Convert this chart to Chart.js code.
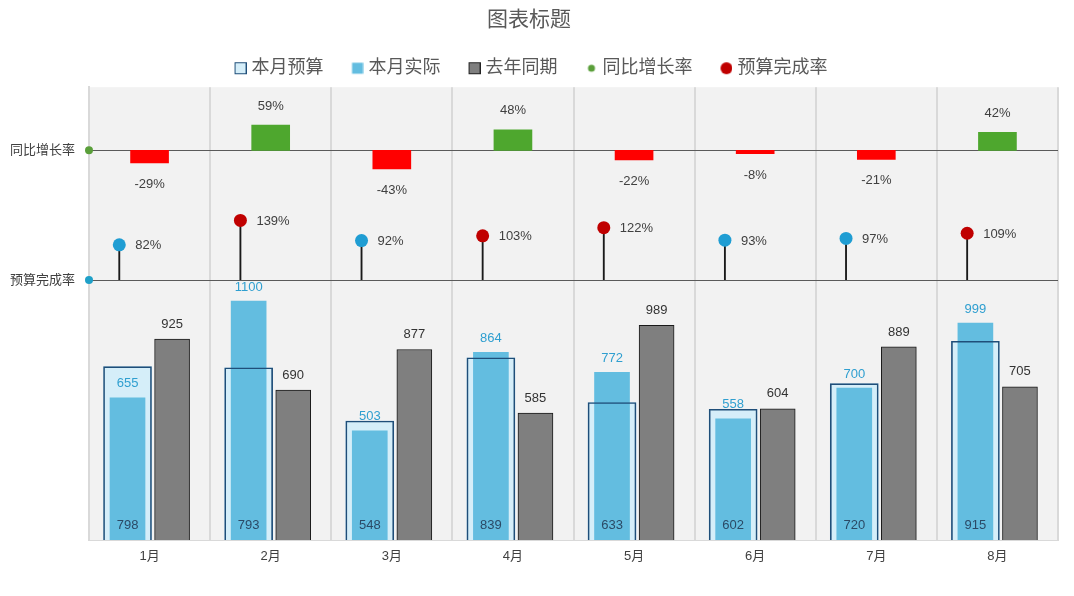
<!DOCTYPE html>
<html>
<head>
<meta charset="utf-8">
<script src="https://cdn.jsdelivr.net/npm/chart.js@4.4.1/dist/chart.umd.min.js"></script>
<style>
  html, body { margin: 0; padding: 0; background: #ffffff; }
  #wrap { width: 1074px; height: 596px; position: relative; }
</style>
</head>
<body>
<div id="wrap"><canvas id="c"></canvas></div>
<script>
// ---- data ----
const categories = ['1月', '2月', '3月', '4月', '5月', '6月', '7月', '8月'];
const budget = [798, 793, 548, 839, 633, 602, 720, 915];        // 本月预算
const actual = [655, 1100, 503, 864, 772, 558, 700, 999];       // 本月实际
const lastYear = [925, 690, 877, 585, 989, 604, 889, 705];      // 去年同期
const growthRate = [-29, 59, -43, 48, -22, -8, -21, 42];        // 同比增长率 (%)
const completionRate = [82, 139, 92, 103, 122, 93, 97, 109];    // 预算完成率 (%)
const seriesNames = ['本月预算', '本月实际', '去年同期', '同比增长率', '预算完成率'];
const rateAxisLabels = ['同比增长率', '预算完成率'];
const chartTitle = '图表标题';

// ---- axis ranges (layout of the three bands) ----
const BAR_MAX = 2085;
const PCT_MIN = -605;
const PCT_MAX = 449;
const GROWTH_BASE = 302;
// slot offsets inside a category (in category units)
const OFF_BUDGET = -0.182;
const OFF_LAST = 0.186;
const OFF_STEM = -0.25;

const FONT = "'Liberation Sans', 'Noto Sans CJK SC', sans-serif";
Chart.defaults.font.family = FONT;

const C = {
  budgetFill: '#d5eef9', budgetLine: '#1f4e79', actual: '#63bde0',
  gray: '#7f7f7f', grayLine: '#1a1a1a', up: '#4ea72e', down: '#ff0000',
  dotHigh: '#c00000', dotLow: '#1f9dd3', axisGreen: '#5a9f3a', axisBlue: '#1fa0c8'
};

function marker(draw) {
  const cv = document.createElement('canvas');
  cv.width = 20; cv.height = 14;
  const g = cv.getContext('2d');
  draw(g);
  return cv;
}
const legendMarkers = [
  marker(g => { g.fillStyle = C.budgetFill; g.fillRect(8, 1, 12, 12); g.strokeStyle = C.budgetLine; g.lineWidth = 1; g.strokeRect(8.5, 1.5, 11, 11); }),
  marker(g => { g.fillStyle = C.actual; g.fillRect(8.5, 1.5, 11, 11); }),
  marker(g => { g.fillStyle = C.gray; g.fillRect(8, 1, 12, 12); g.strokeStyle = '#222'; g.lineWidth = 1; g.strokeRect(8.5, 1.5, 11, 11); }),
  marker(g => { g.fillStyle = C.axisGreen; g.beginPath(); g.arc(14, 7, 3.5, 0, Math.PI * 2); g.fill(); }),
  marker(g => { g.fillStyle = C.dotHigh; g.beginPath(); g.arc(14, 7, 6, 0, Math.PI * 2); g.fill(); })
];

const plotBg = {
  id: 'plotBg',
  beforeDraw(chart) {
    const a = chart.chartArea, ctx = chart.ctx;
    ctx.save();
    ctx.fillStyle = '#f2f2f2';
    ctx.fillRect(a.left, a.top, a.right - a.left, a.bottom - a.top);
    ctx.restore();
  }
};

const valueLabels = {
  id: 'valueLabels',
  afterDatasetsDraw(chart) {
    const ctx = chart.ctx;
    ctx.save();
    ctx.font = '13px ' + FONT;
    ctx.textAlign = 'center';
    ctx.textBaseline = 'middle';
    chart.getDatasetMeta(0).data.forEach((el, i) => {
      ctx.fillStyle = '#404040';
      const v = growthRate[i];
      const top = Math.min(el.y, el.base), bottom = Math.max(el.y, el.base);
      ctx.fillText(v + '%', el.x, v >= 0 ? top - 19 : bottom + 21.5);
    });
    chart.getDatasetMeta(5).data.forEach((el, i) => {
      ctx.fillStyle = '#2f9fd0';
      ctx.fillText(actual[i], el.x, el.y - 14);
    });
    chart.getDatasetMeta(6).data.forEach((el, i) => {
      ctx.fillStyle = '#2b4a66';
      ctx.fillText(budget[i], el.x, el.base - 15);
    });
    chart.getDatasetMeta(7).data.forEach((el, i) => {
      ctx.fillStyle = '#333333';
      ctx.fillText(lastYear[i], el.x, el.y - 15);
    });
    ctx.textAlign = 'left';
    chart.getDatasetMeta(2).data.forEach((el, i) => {
      ctx.fillStyle = '#404040';
      ctx.fillText(completionRate[i] + '%', el.x + 16, el.y + 1);
    });
    ctx.restore();
  }
};

const at = (arr, off) => arr.map((v, i) => ({ x: i + off, y: v }));

new Chart(document.getElementById('c'), {
  type: 'bar',
  data: {
    labels: categories,
    datasets: [
      { // 0 growth
        type: 'bar', label: seriesNames[3], xAxisID: 'x', yAxisID: 'yp',
        data: growthRate.map(v => [GROWTH_BASE, GROWTH_BASE + v]),
        backgroundColor: growthRate.map(v => v >= 0 ? C.up : C.down),
        grouped: false, barThickness: 38, borderWidth: 0, order: 1
      },
      { // 1 stems
        type: 'bar', label: 'stem', xAxisID: 'x2', yAxisID: 'yp',
        data: completionRate.map((v, i) => ({ x: i + OFF_STEM, y: [0, v] })),
        backgroundColor: '#1a1a1a', grouped: false, barThickness: 1.2, borderWidth: 0, order: 2
      },
      { // 2 dots
        type: 'line', label: seriesNames[4], xAxisID: 'x2', yAxisID: 'yp',
        data: at(completionRate, OFF_STEM),
        showLine: false, pointRadius: 6.5, pointHoverRadius: 6.5, pointBorderWidth: 0,
        pointBackgroundColor: completionRate.map(v => v >= 100 ? C.dotHigh : C.dotLow),
        order: 0
      },
      { // 3 axis markers
        type: 'line', label: 'axis', xAxisID: 'x2', yAxisID: 'yp',
        data: [{ x: -0.5, y: GROWTH_BASE }, { x: -0.5, y: 0 }],
        showLine: false, pointRadius: 4, pointBorderWidth: 0,
        pointBackgroundColor: [C.axisGreen, C.axisBlue], clip: false, order: 0
      },
      { // 4 budget fill
        type: 'bar', label: seriesNames[0], xAxisID: 'x2', yAxisID: 'y', data: at(budget, OFF_BUDGET),
        backgroundColor: C.budgetFill, borderWidth: 0, grouped: false, barThickness: 48, order: 6
      },
      { // 5 actual
        type: 'bar', label: seriesNames[1], xAxisID: 'x2', yAxisID: 'y', data: at(actual, OFF_BUDGET),
        backgroundColor: C.actual, borderWidth: 0, grouped: false, barThickness: 35, order: 5
      },
      { // 6 budget outline
        type: 'bar', label: 'budgetOutline', xAxisID: 'x2', yAxisID: 'y', data: at(budget, OFF_BUDGET),
        backgroundColor: 'rgba(0,0,0,0)', borderColor: C.budgetLine, borderWidth: 1,
        grouped: false, barThickness: 48, order: 4
      },
      { // 7 last year
        type: 'bar', label: seriesNames[2], xAxisID: 'x2', yAxisID: 'y', data: at(lastYear, OFF_LAST),
        backgroundColor: C.gray, borderColor: C.grayLine, borderWidth: 1,
        grouped: false, barThickness: 35, order: 7
      }
    ]
  },
  options: {
    responsive: true,
    maintainAspectRatio: false,
    animation: false,
    events: [],
    layout: { padding: { left: 0, right: 16, top: 0, bottom: 0 } },
    plugins: {
      tooltip: { enabled: false },
      title: {
        display: true, text: chartTitle, color: '#595959',
        font: { size: 21, weight: 'normal', family: FONT },
        padding: { top: 8, bottom: 2 }
      },
      legend: {
        display: true,
        labels: {
          usePointStyle: true, boxWidth: 12, padding: 24, color: '#595959',
          font: { size: 18, family: FONT },
          generateLabels: () => seriesNames.map((t, i) => ({
            text: t, pointStyle: legendMarkers[i], fillStyle: 'transparent',
            strokeStyle: 'transparent', lineWidth: 0, hidden: false, fontColor: '#595959', datasetIndex: i
          }))
        }
      }
    },
    scales: {
      x: {
        type: 'category', offset: true, position: 'bottom',
        grid: { offset: true, color: '#d9d9d9', lineWidth: 2, drawTicks: false },
        border: { color: '#d9d9d9', width: 1 },
        ticks: { color: '#404040', font: { size: 13 }, padding: 9 },
        afterFit: s => { s.height = 56; }
      },
      x2: {
        type: 'linear', position: 'top', min: -0.5, max: 7.5, offset: false, display: true,
        ticks: { display: false }, grid: { display: false }, border: { display: false },
        afterFit: s => { s.height = 0; }
      },
      y: {
        type: 'linear', display: false, min: 0, max: BAR_MAX, stacked: false
      },
      yp: {
        type: 'linear', position: 'left', min: PCT_MIN, max: PCT_MAX, stacked: false,
        afterBuildTicks: s => { s.ticks = [{ value: 0 }, { value: GROWTH_BASE }]; },
        ticks: {
          color: '#404040', font: { size: 13 }, padding: 14,
          callback: v => (v === GROWTH_BASE ? rateAxisLabels[0] : rateAxisLabels[1])
        },
        grid: { color: '#5a5a5a', lineWidth: 1, drawTicks: false },
        border: { color: '#d9d9d9', width: 2 },
        afterFit: s => { s.width = 89; }
      }
    }
  },
  plugins: [plotBg, valueLabels]
});
</script>
</body>
</html>
